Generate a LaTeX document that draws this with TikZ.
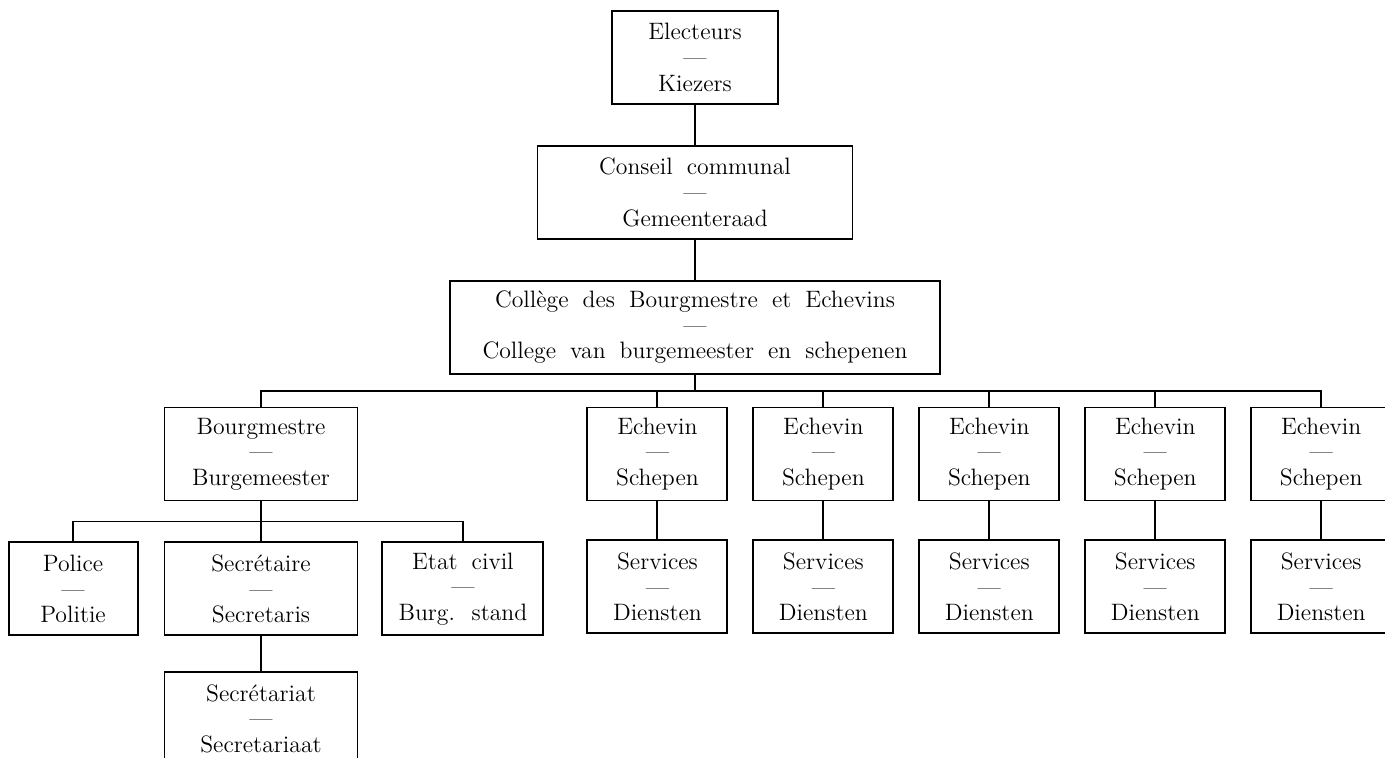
\documentclass[tikz,border=0pt]{standalone}
\usepackage{fontspec}
\usetikzlibrary{positioning,calc}
\newcommand\orgfont{\fontsize{13.5}{14.6}\selectfont\addfontfeatures{LetterSpace=13,FakeBold=1.2}\spaceskip 8pt plus 2pt\relax}
\newcommand\sep{{\addfontfeatures{FakeBold=4}---}}

\begin{document}
\begin{tikzpicture}[
            font=\orgfont,
            node distance=8mm and 4.8mm,
            box/.style={draw, line width=1.1pt, align=center, inner sep=2pt,
            minimum height=18.6mm, minimum width=28mm},
            link/.style={line width=1.1pt}
        ]
            \clip (0,0) rectangle (27.7,-15.14);

% Top of the hierarchy
            \node[box, minimum width=33.2mm]          (elec)  at (13.9,-1.15) {Electeurs\\\sep\\Kiezers};
            \node[box, minimum width=63mm, below=of elec]  (cons)  {Conseil communal\\\sep\\Gemeenteraad};
            \node[box, minimum width=98mm, below=of cons]  (coll)  {Collège des Bourgmestre et Echevins\\\sep\\College van burgemeester en schepenen};

% Bourgmestre and his services
            \node[box, minimum width=38.6mm]          (bourg) at (5.22,-9.08) {Bourgmestre\\\sep\\Burgemeester};
            \node[box, minimum width=38.6mm, below=of bourg]           (secr)  {Secrétaire\\\sep\\Secretaris};
            \node[box, minimum width=25.8mm, left=5mm of secr]         (pol)   {Police\\\sep\\Politie};
            \node[box, minimum width=32.2mm, right=4.6mm of secr]      (etat)  {Etat civil\\\sep\\Burg. stand};
            \node[box, minimum width=38.6mm, below=7mm of secr]        (secrt) {Secrétariat\\\sep\\Secretariaat};

% Echevins with their services
            \node[box, right=45.6mm of bourg]         (ech1)  {Echevin\\\sep\\Schepen};
            \node[box, right=of ech1]                 (ech2)  {Echevin\\\sep\\Schepen};
            \node[box, right=of ech2]                 (ech3)  {Echevin\\\sep\\Schepen};
            \node[box, right=of ech3]                 (ech4)  {Echevin\\\sep\\Schepen};
            \node[box, right=of ech4]                 (ech5)  {Echevin\\\sep\\Schepen};
            \node[box, below=7.6mm of ech1]           (serv1) {Services\\\sep\\Diensten};
            \node[box, below=7.6mm of ech2]           (serv2) {Services\\\sep\\Diensten};
            \node[box, below=7.6mm of ech3]           (serv3) {Services\\\sep\\Diensten};
            \node[box, below=7.6mm of ech4]           (serv4) {Services\\\sep\\Diensten};
            \node[box, below=7.6mm of ech5]           (serv5) {Services\\\sep\\Diensten};

% Connectors
            \draw[link] (elec) -- (cons);
            \draw[link] (cons) -- (coll);

            \coordinate (bus) at ($(coll.south)!0.5!(coll.south |- bourg.north)$);
            \draw[link] (coll.south) -- (bus);
            \draw[link] (bourg.north) |- (bus);
            \draw[link] (ech1.north) |- (bus);
            \draw[link] (ech2.north) |- (bus);
            \draw[link] (ech3.north) |- (bus);
            \draw[link] (ech4.north) |- (bus);
            \draw[link] (ech5.north) |- (bus);

            \coordinate (sbus) at ($(bourg.south)!0.5!(secr.north)$);
            \draw[link] (bourg.south) -- (sbus);
            \draw[link] (pol.north) |- (sbus);
            \draw[link] (secr.north) -- (sbus);
            \draw[link] (etat.north) |- (sbus);
            \draw[link] (secr) -- (secrt);

            \draw[link] (ech1) -- (serv1);
            \draw[link] (ech2) -- (serv2);
            \draw[link] (ech3) -- (serv3);
            \draw[link] (ech4) -- (serv4);
            \draw[link] (ech5) -- (serv5);
        \end{tikzpicture}
\end{document}
